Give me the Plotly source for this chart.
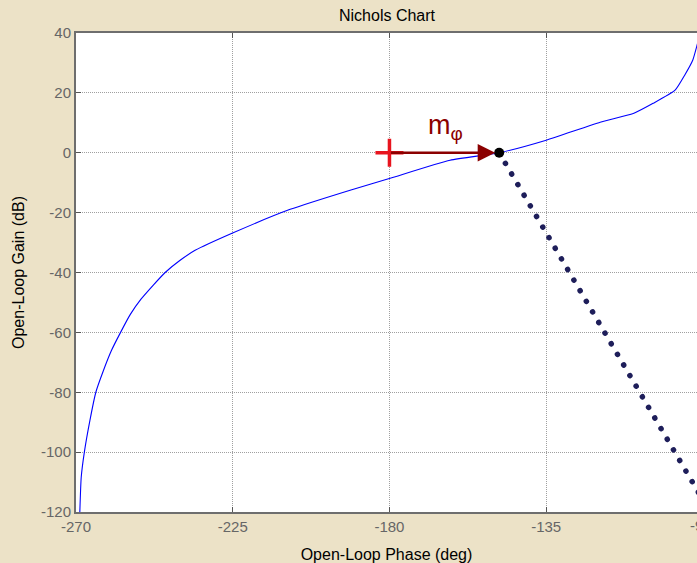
import plotly.graph_objects as go

# Nichols curve (open-loop phase in deg, gain in dB)
phase = [-268.9, -268.5, -267.6, -266.0, -264.3, -262.2, -259.8, -257.2, -254.4,
         -251.4, -247.8, -244.4, -240.2, -235.8, -225.2, -208.5, -191.3, -179.8,
         -162.6, -148.5, -135.0, -119.5, -110.0, -104.3, -98.0, -95.2, -92.9,
         -91.8, -90.8]
gain = [-120.0, -108.4, -100.0, -89.4, -80.0, -73.0, -66.0, -60.0, -54.0,
        -49.0, -44.2, -40.0, -36.0, -32.6, -26.9, -18.9, -12.5, -8.5,
        -2.5, 0.0, 4.2, 10.2, 13.1, 16.5, 20.9, 26.0, 31.0,
        35.4, 40.0]

# crossover point and critical point
cross_phase, cross_gain = -148.5, 0.0
crit_phase, crit_gain = -180.0, 0.0

# dotted asymptote line
dot_phase = [-148.5, -90.0]
dot_gain = [0.0, -116.0]

xticks = [-270, -225, -180, -135, -90]
yticks = [-120, -100, -80, -60, -40, -20, 0, 20, 40]

FONT = "Arial, Liberation Sans, sans-serif"
TICKC = "#666666"

fig = go.Figure()
fig.add_trace(go.Scatter(x=phase, y=gain, mode="lines",
                         line=dict(color="#0000ff", width=1.1, shape="spline", smoothing=0.5),
                         hoverinfo="skip"))
fig.add_trace(go.Scatter(x=dot_phase, y=dot_gain, mode="lines",
                         line=dict(color="#1e1e5a", width=5.5, dash="0.1px,12.2px"),
                         hoverinfo="skip"))
fig.add_annotation(x=cross_phase, y=cross_gain, ax=crit_phase, ay=crit_gain,
                   xref="x", yref="y", axref="x", ayref="y", text="",
                   showarrow=True, arrowhead=2, arrowsize=1.4, arrowwidth=2.5,
                   arrowcolor="#8b0000", standoff=4)
fig.add_trace(go.Scatter(x=[crit_phase], y=[crit_gain], mode="markers",
                         marker=dict(symbol="cross-thin", size=20,
                                     line=dict(color="#e8141e", width=3.5)),
                         hoverinfo="skip"))
fig.add_trace(go.Scatter(x=[cross_phase], y=[cross_gain], mode="markers",
                         marker=dict(color="black", size=10), hoverinfo="skip"))
fig.add_annotation(x=-164, y=8.5, xref="x", yref="y", text="m<sub>φ</sub>",
                   showarrow=False, font=dict(family=FONT, size=27, color="#8b0000"))
# partially visible -90 tick label at the right edge
fig.add_annotation(x=1 + 3.5 / 621, y=0, xref="paper", yref="paper", text="-90",
                   showarrow=False, xanchor="center", yanchor="top", yshift=-3,
                   font=dict(family=FONT, size=15, color=TICKC))

axis_common = dict(showline=True, linecolor="#6e6e6e", linewidth=2,
                   ticks="inside", ticklen=5, tickcolor="#555555",
                   showgrid=True, gridcolor="#a0a0a0", griddash="1px,1px", gridwidth=1,
                   zeroline=False, tickfont=dict(family=FONT, size=15, color=TICKC))

fig.update_xaxes(range=[-270, -91.7], tickvals=xticks, mirror="ticks",
                 ticktext=[str(v) for v in xticks], **axis_common,
                 title=dict(text="Open-Loop Phase (deg)", standoff=16,
                            font=dict(family=FONT, size=16, color="black")))
fig.update_yaxes(range=[-120, 40], tickvals=yticks, mirror=False,
                 ticktext=[str(v) for v in yticks], **axis_common,
                 title=dict(text="Open-Loop Gain (dB)", standoff=12,
                            font=dict(family=FONT, size=16, color="black")))

fig.update_layout(width=697, height=563, showlegend=False,
                  margin=dict(l=76, r=0, t=33, b=51),
                  paper_bgcolor="#ece2c7", plot_bgcolor="white",
                  title=dict(text="Nichols Chart", x=387 / 697, xanchor="center",
                             y=1 - 15 / 563, yanchor="middle",
                             font=dict(family=FONT, size=16, color="black")))

post = """
var gd = document.getElementById('{plot_id}');
function rnd(){
  var tr = gd.querySelectorAll('.scatterlayer .trace');
  if (tr.length > 1) {
    tr[1].querySelectorAll('path.js-line').forEach(function(p){
      p.style.strokeLinecap = 'round';
    });
  }
}
rnd();
gd.on('plotly_afterplot', rnd);
"""
fig.write_html("out.html", post_script=post)
